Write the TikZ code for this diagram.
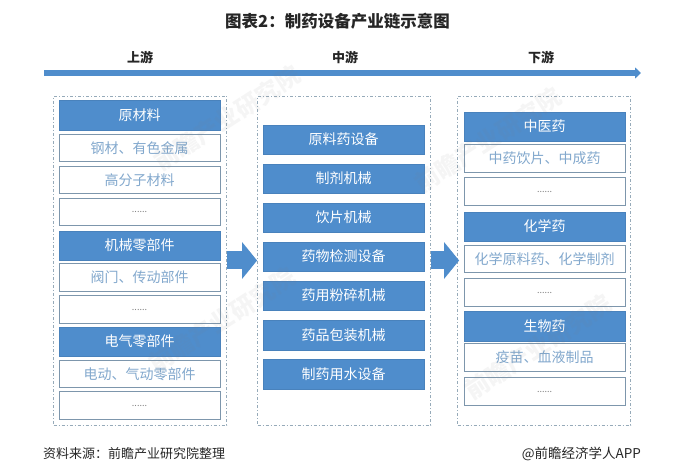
\documentclass[tikz,border=0pt]{standalone}
\usepackage{fontspec}
\setmainfont{Noto Sans CJK SC}
\usetikzlibrary{arrows.meta}
\definecolor{chainblue}{RGB}{79,141,204}
\definecolor{itemtext}{RGB}{130,168,205}
\definecolor{itemborder}{RGB}{125,150,172}
\definecolor{frameborder}{RGB}{150,170,185}

\begin{document}
\begin{tikzpicture}[x=1pt, y=-1pt, >=latex]

        % Styles
        \tikzset{
            head/.style={draw=chainblue!92!black, fill=chainblue, text=white, align=center, inner sep=0pt, minimum width=161pt, minimum height=29.5pt, font=\fontsize{14}{14}\selectfont},
            item/.style={draw=itemborder, thick, fill=white, text=itemtext, align=center, inner sep=0pt, minimum width=161pt, minimum height=27.5pt, font=\fontsize{14}{14}\selectfont},
            more/.style={item, text=gray, font=\fontsize{9}{9}\selectfont},
            framebox/.style={draw=frameborder, thick, dash pattern=on 3pt off 2pt on 1pt off 2pt, inner sep=0pt, minimum width=173pt, minimum height=329pt},
            stage/.style={font=\fontsize{13}{13}\selectfont\bfseries, text=black!85},
            chainarrow/.style={draw=chainblue, line width=6pt, -{Triangle[length=6pt, width=11pt]}},
            flowarrow/.style={draw=chainblue, line width=18pt, -{Triangle[length=15pt, width=36pt]}},
            footer/.style={text=black!85, font=\fontsize{13}{13}\selectfont},
            stamp/.style={text=gray, opacity=0.08, rotate=33, font=\fontsize{24}{24}\selectfont\bfseries}
        }
        \useasboundingbox (0,0) rectangle (677,462);

        % --- TITRE ---
        \node[text=black!85, font=\fontsize{16.5}{16.5}\selectfont\bfseries] (title) at (337.5,21) {图表2：制药设备产业链示意图};

        % --- CHAINE ---
        \node[stage] (upstage) at (140,57) {上游};
        \node[stage] (midstage) at (345,57) {中游};
        \node[stage] (downstage) at (541,57) {下游};
        \coordinate (chainstart) at (44,73);
        \coordinate (chainend) at (641,73);
        \draw[chainarrow] (chainstart) -- (chainend);

        % --- CADRES ---
        \node[framebox] (upframe) at (140,260.5) {};
        \node[framebox] (midframe) at (344,260.5) {};
        \node[framebox] (downframe) at (544,260.5) {};

        % --- AMONT ---
        \node[head] (raw) at (139.5,115) {原材料};
        \node[item] (steel) at (139.5,148) {钢材、有色金属};
        \node[item] (polymer) at (139.5,180) {高分子材料};
        \node[more] (rawmore) at (139.5,212) {......};
        \node[head] (mech) at (139.5,245.5) {机械零部件};
        \node[item] (valve) at (139.5,277.5) {阀门、传动部件};
        \node[more] (mechmore) at (139.5,309.5) {......};
        \node[head] (elec) at (139.5,341.5) {电气零部件};
        \node[item] (pneu) at (139.5,374) {电动、气动零部件};
        \node[more] (elecmore) at (139.5,405.5) {......};

        % --- MILIEU ---
        \node[head] (apieq) at (343.5,139.5) {原料药设备};
        \node[head] (prep) at (343.5,178.5) {制剂机械};
        \node[head] (slice) at (343.5,217.5) {饮片机械};
        \node[head] (test) at (343.5,256.5) {药物检测设备};
        \node[head] (crush) at (343.5,295.5) {药用粉碎机械};
        \node[head] (pack) at (343.5,335) {药品包装机械};
        \node[head] (water) at (343.5,374) {制药用水设备};

        % --- AVAL ---
        \node[head] (tcm) at (544.5,126.5) {中医药};
        \node[item] (tcmitem) at (544.5,158.5) {中药饮片、中成药};
        \node[more] (tcmmore) at (544.5,191.5) {......};
        \node[head] (chem) at (544.5,226.5) {化学药};
        \node[item] (chemitem) at (544.5,259) {化学原料药、化学制剂};
        \node[more] (chemmore) at (544.5,292.5) {......};
        \node[head] (bio) at (544.5,326) {生物药};
        \node[item] (bioitem) at (544.5,357.5) {疫苗、血液制品};
        \node[more] (biomore) at (544.5,391.5) {......};

        % --- CONNEXIONS ---
        \draw[flowarrow] (upframe.east) -- (midframe.west);
        \draw[flowarrow, shorten >=-2pt] (midframe.east) -- (downframe.west);

        % --- PIED ---
        \node[footer, anchor=west] (source) at (39.5,454) {资料来源：前瞻产业研究院整理};
        \node[footer, anchor=east, font=\fontsize{13.5}{13.5}\selectfont] (brand) at (644.5,454) {@前瞻经济学人APP};

        % --- FILIGRANE ---
        \node[stamp] (stampa) at (227,118) {前瞻产业研究院};
        \node[stamp] (stampb) at (488,140) {前瞻产业研究院};
        \node[stamp] (stampc) at (222,320) {前瞻产业研究院};
        \node[stamp] (stampd) at (538,347) {前瞻产业研究院};

    \end{tikzpicture}
\end{document}
